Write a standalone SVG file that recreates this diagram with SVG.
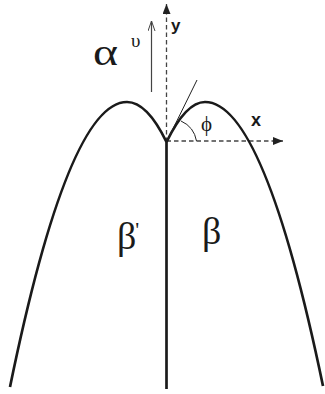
<svg xmlns="http://www.w3.org/2000/svg" width="325" height="394" viewBox="0 0 325 394">
<style>
.curve{fill:none;stroke:#1a1a1a;stroke-width:2.7;stroke-linecap:butt}
.axis{fill:none;stroke:#444;stroke-width:1.3;stroke-dasharray:4.5 3}
.thin{fill:none;stroke:#222;stroke-width:1}
.greek{font-family:"Liberation Serif","Times New Roman",serif;fill:#1a1a1a}
.lbl{font-family:"Liberation Sans",Arial,sans-serif;font-weight:bold;fill:#1a1a1a}
</style>
<defs>
<marker id="solid" viewBox="0 0 10 8" refX="10" refY="4" markerWidth="10" markerHeight="8" markerUnits="userSpaceOnUse" orient="auto">
<path d="M0,0 L10,4 L0,8 Z" fill="#222"/>
</marker>
<marker id="open" viewBox="0 0 10 8" refX="10" refY="4" markerWidth="10" markerHeight="8" markerUnits="userSpaceOnUse" orient="auto">
<path d="M0,0.5 L10,4 L0,7.5" fill="none" stroke="#444" stroke-width="1"/>
</marker>
</defs>
<g id="connectors">
<line class="axis" x1="166.5" y1="142" x2="166.5" y2="4" marker-end="url(#solid)"/>
<line class="axis" x1="166.5" y1="141" x2="283" y2="141" marker-end="url(#solid)"/>
<line x1="151.5" y1="92" x2="151.5" y2="21" stroke="#444" stroke-width="1.2" marker-end="url(#open)"/>
</g>
<g id="left-front">
<path class="curve" d="M166.5,142 Q147,102 127,102 Q68.5,102 10,387"/>
</g>
<g id="right-front">
<path class="curve" d="M166.5,142 Q186,102 205,102 Q264,102 323,386"/>
</g>
<g id="boundary">
<line class="curve" x1="166.5" y1="141" x2="166.5" y2="389"/>
</g>
<g id="tangent">
<line class="thin" x1="166.5" y1="142" x2="197" y2="80"/>
<path class="thin" d="M181,121 A27,27 0 0 1 196.5,141"/>
</g>
<g id="labels">
<text class="greek" x="93" y="65" font-size="38" textLength="25" lengthAdjust="spacingAndGlyphs">α</text>
<text class="greek" x="131" y="47" font-size="19">υ</text>
<text class="lbl" x="171" y="31" font-size="17">y</text>
<text class="lbl" x="251" y="126" font-size="18">x</text>
<text class="greek" x="201" y="131" font-size="21">ϕ</text>
<text class="greek" x="117" y="249" font-size="38">β<tspan dx="-1" dy="-12" font-size="22">'</tspan></text>
<text class="greek" x="202" y="244" font-size="38">β</text>
</g>
</svg>
